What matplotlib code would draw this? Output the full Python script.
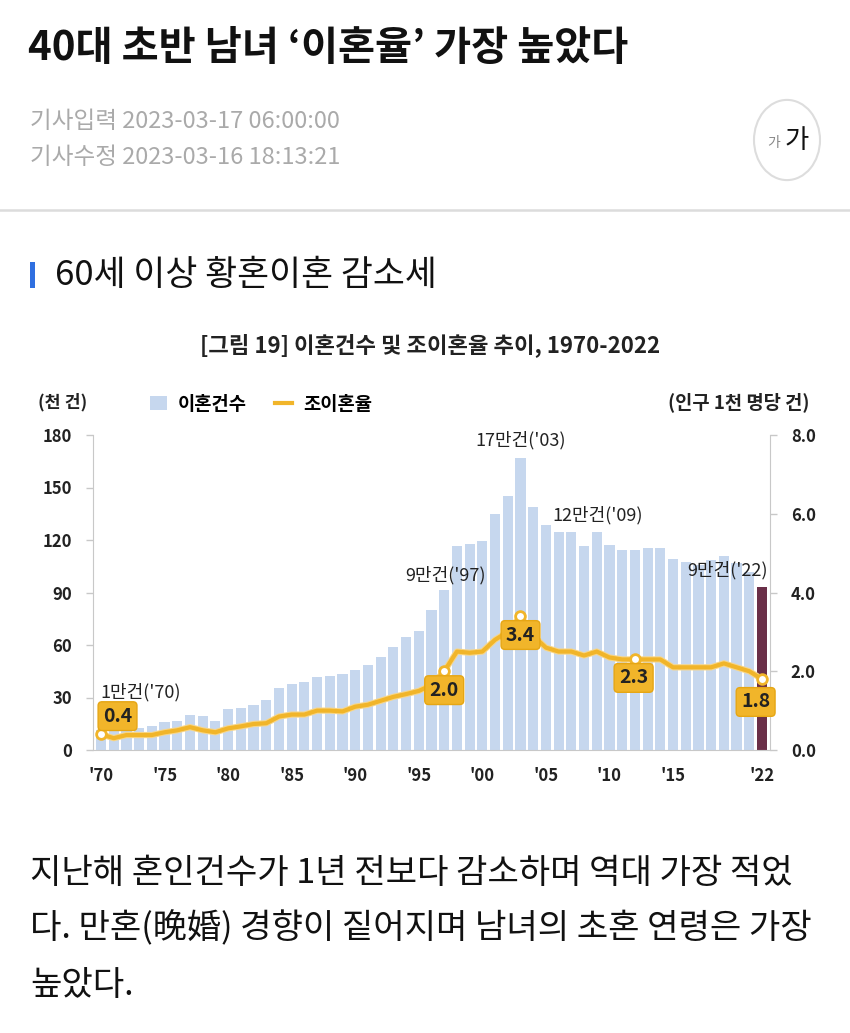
import matplotlib
matplotlib.use("Agg")
import matplotlib.pyplot as plt
from matplotlib.patches import Patch, Rectangle, Circle
from matplotlib.lines import Line2D
import matplotlib.patheffects as pe

plt.rcParams['font.family'] = ['Noto Sans CJK KR', 'DejaVu Sans']

# data
years = list(range(1970, 2023))
divorces = [11.6, 11.0, 11.5, 12.4, 13.7, 16.2, 16.8, 20.0, 19.3, 16.8,
            23.3, 24.0, 25.7, 28.4, 35.6, 37.9, 38.7, 41.9, 42.3, 43.4,
            45.5, 48.8, 53.0, 59.0, 64.8, 68.0, 80.0, 91.2, 116.3, 117.8,
            119.6, 134.7, 145.0, 166.6, 139.0, 128.3, 124.8, 124.3, 116.7, 124.3,
            117.0, 114.5, 114.2, 115.5, 115.6, 109.0, 107.4, 106.0, 108.6, 110.8,
            106.6, 101.8, 93.2]
rate = [0.4, 0.3, 0.38, 0.38, 0.38, 0.45, 0.5, 0.58, 0.5, 0.45,
        0.55, 0.6, 0.66, 0.68, 0.85, 0.9, 0.9, 1.0, 1.0, 0.98,
        1.1, 1.15, 1.25, 1.35, 1.42, 1.5, 1.65, 2.0, 2.5, 2.47,
        2.5, 2.8, 3.0, 3.4, 2.9, 2.6, 2.5, 2.5, 2.4, 2.5,
        2.35, 2.3, 2.3, 2.3, 2.3, 2.1, 2.1, 2.1, 2.1, 2.2,
        2.1, 2.0, 1.8]
tick_years = [1970, 1975, 1980, 1985, 1990, 1995, 2000, 2005, 2010, 2015, 2022]
tick_labels = ["'70", "'75", "'80", "'85", "'90", "'95", "'00", "'05", "'10", "'15", "'22"]
mark_years = [1970, 1997, 2003, 2012, 2022]
count_notes = ["1만건('70)", "9만건('97)", "17만건('03)", "12만건('09)", "9만건('22)"]
count_note_pos = [(1973.1, 33), (1997.1, 100), (2003.0, 177), (2009.1, 134), (2019.3, 103)]
rate_note_pos = [(1971.3, 0.86), (1997.0, 1.52), (2003.0, 2.92), (2011.9, 1.83), (2021.5, 1.22)]

W, H = 850, 1033
fig = plt.figure(figsize=(8.5, 10.33), dpi=100)

def fx(x):
    return x / W

def fy(y):
    return 1 - y / H

# page header
fig.text(fx(28), fy(48), "40대 초반 남녀 ‘이혼율’ 가장 높았다", fontsize=29,
         fontweight='bold', va='center', ha='left', color='#111111')
fig.text(fx(30), fy(121), "기사입력 2023-03-17 06:00:00", fontsize=17,
         va='center', color='#aaaaaa')
fig.text(fx(30), fy(157), "기사수정 2023-03-16 18:13:21", fontsize=17,
         va='center', color='#aaaaaa')
circ = Circle((fx(787), fy(140)), 33 / W, transform=fig.transFigure,
              facecolor='white', edgecolor='#dddddd', lw=1.5)
fig.patches.append(circ)
fig.text(fx(774), fy(143), "가", fontsize=10, color='#888888', ha='center', va='center')
fig.text(fx(797), fy(140), "가", fontsize=19, color='#111111', ha='center', va='center')
fig.add_artist(Line2D([0, 1], [fy(210), fy(210)], color='#dcdcdc', lw=1.8,
                      transform=fig.transFigure))
fig.patches.append(Rectangle((fx(30), fy(288)), 5 / W, 26 / H, transform=fig.transFigure,
                             facecolor='#2f6fe0', edgecolor='none'))
fig.text(fx(55), fy(275), "60세 이상 황혼이혼 감소세", fontsize=25, va='center', color='#111111')

body = ["지난해 혼인건수가 1년 전보다 감소하며 역대 가장 적었",
        "다. 만혼(晩婚) 경향이 짙어지며 남녀의 초혼 연령은 가장",
        "높았다."]
for i, line in enumerate(body):
    fig.text(fx(30), fy(873 + 56 * i), line, fontsize=24.6, va='center', color='#111111')

# chart
fig.text(fx(430), fy(345), "[그림 19] 이혼건수 및 조이혼율 추이, 1970-2022",
         fontsize=16, fontweight='bold', ha='center', va='center', color='#222222')
fig.text(fx(38), fy(402), "(천 건)", fontsize=12.5, fontweight='bold', va='center', color='#222222')
fig.text(fx(810), fy(402), "(인구 1천 명당 건)", fontsize=13.5, fontweight='bold',
         va='center', ha='right', color='#222222')

ax = fig.add_axes([fx(93), fy(750), (770 - 93) / W, (750 - 435) / H])
colors = ['#c6d7ee'] * (len(years) - 1) + ['#6a2f48']
ax.bar(years, divorces, width=0.8, color=colors, zorder=2)
ax.set_xlim(1969.37, 2022.63)
ax.set_ylim(0, 180)
ax.set_yticks(range(0, 181, 30))
ax.set_xticks(tick_years)
ax.set_xticklabels(tick_labels)
ax.tick_params(axis='x', length=0, pad=12, labelsize=12, colors='#222222')
ax.tick_params(axis='y', length=5, width=1, color='#c8c8c8', pad=10, labelsize=12,
               labelcolor='#222222')
for lab in ax.get_xticklabels() + ax.get_yticklabels():
    lab.set_fontweight('bold')
for s in ['top', 'right']:
    ax.spines[s].set_visible(False)
ax.spines['left'].set_color('#c8c8c8')
ax.spines['bottom'].set_color('#c8c8c8')

for txt, (x, y) in zip(count_notes, count_note_pos):
    ax.text(x, y, txt, fontsize=13, fontweight='medium', ha='center', va='center',
            color='#222222', zorder=5)

ax2 = ax.twinx()
ax2.set_ylim(0, 8)
ax2.set_yticks([0, 2, 4, 6, 8])
ax2.set_yticklabels(['0.0', '2.0', '4.0', '6.0', '8.0'])
ax2.tick_params(axis='y', length=5, width=1, color='#c8c8c8', pad=10, labelsize=12,
                labelcolor='#222222')
for lab in ax2.get_yticklabels():
    lab.set_fontweight('bold')
for s in ['top', 'left', 'bottom']:
    ax2.spines[s].set_visible(False)
ax2.spines['right'].set_color('#c8c8c8')

gold = '#f1b52a'
ax2.plot(years, rate, color=gold, lw=3, solid_joinstyle='round', solid_capstyle='round',
         path_effects=[pe.Stroke(linewidth=4.5, foreground='#f7d68a'), pe.Normal()], zorder=3)
mx = [years.index(y) for y in mark_years]
ax2.plot([years[i] for i in mx], [rate[i] for i in mx], 'o', ms=7, mfc='white',
         mec=gold, mew=2, zorder=4)
for i, (x, y) in zip(mx, rate_note_pos):
    ax2.text(x, y, f"{rate[i]:.1f}", fontsize=14, fontweight='bold', ha='center', va='center',
             color='#222222', zorder=6,
             bbox=dict(boxstyle='round,pad=0.25,rounding_size=0.2', fc=gold, ec='#e6a614', lw=1))

handles = [Patch(facecolor='#c6d7ee', edgecolor='none'),
           Line2D([0], [0], color=gold, lw=3)]
fig.legend(handles, ['이혼건수', '조이혼율'], loc='center left',
           bbox_to_anchor=(fx(133), fy(404)), ncol=2, frameon=False,
           handlelength=0.9, handleheight=0.8, columnspacing=1.5, handletextpad=0.6,
           prop={'size': 13.5, 'weight': 'bold'})

fig.savefig("out.png", dpi=100, facecolor='white')
